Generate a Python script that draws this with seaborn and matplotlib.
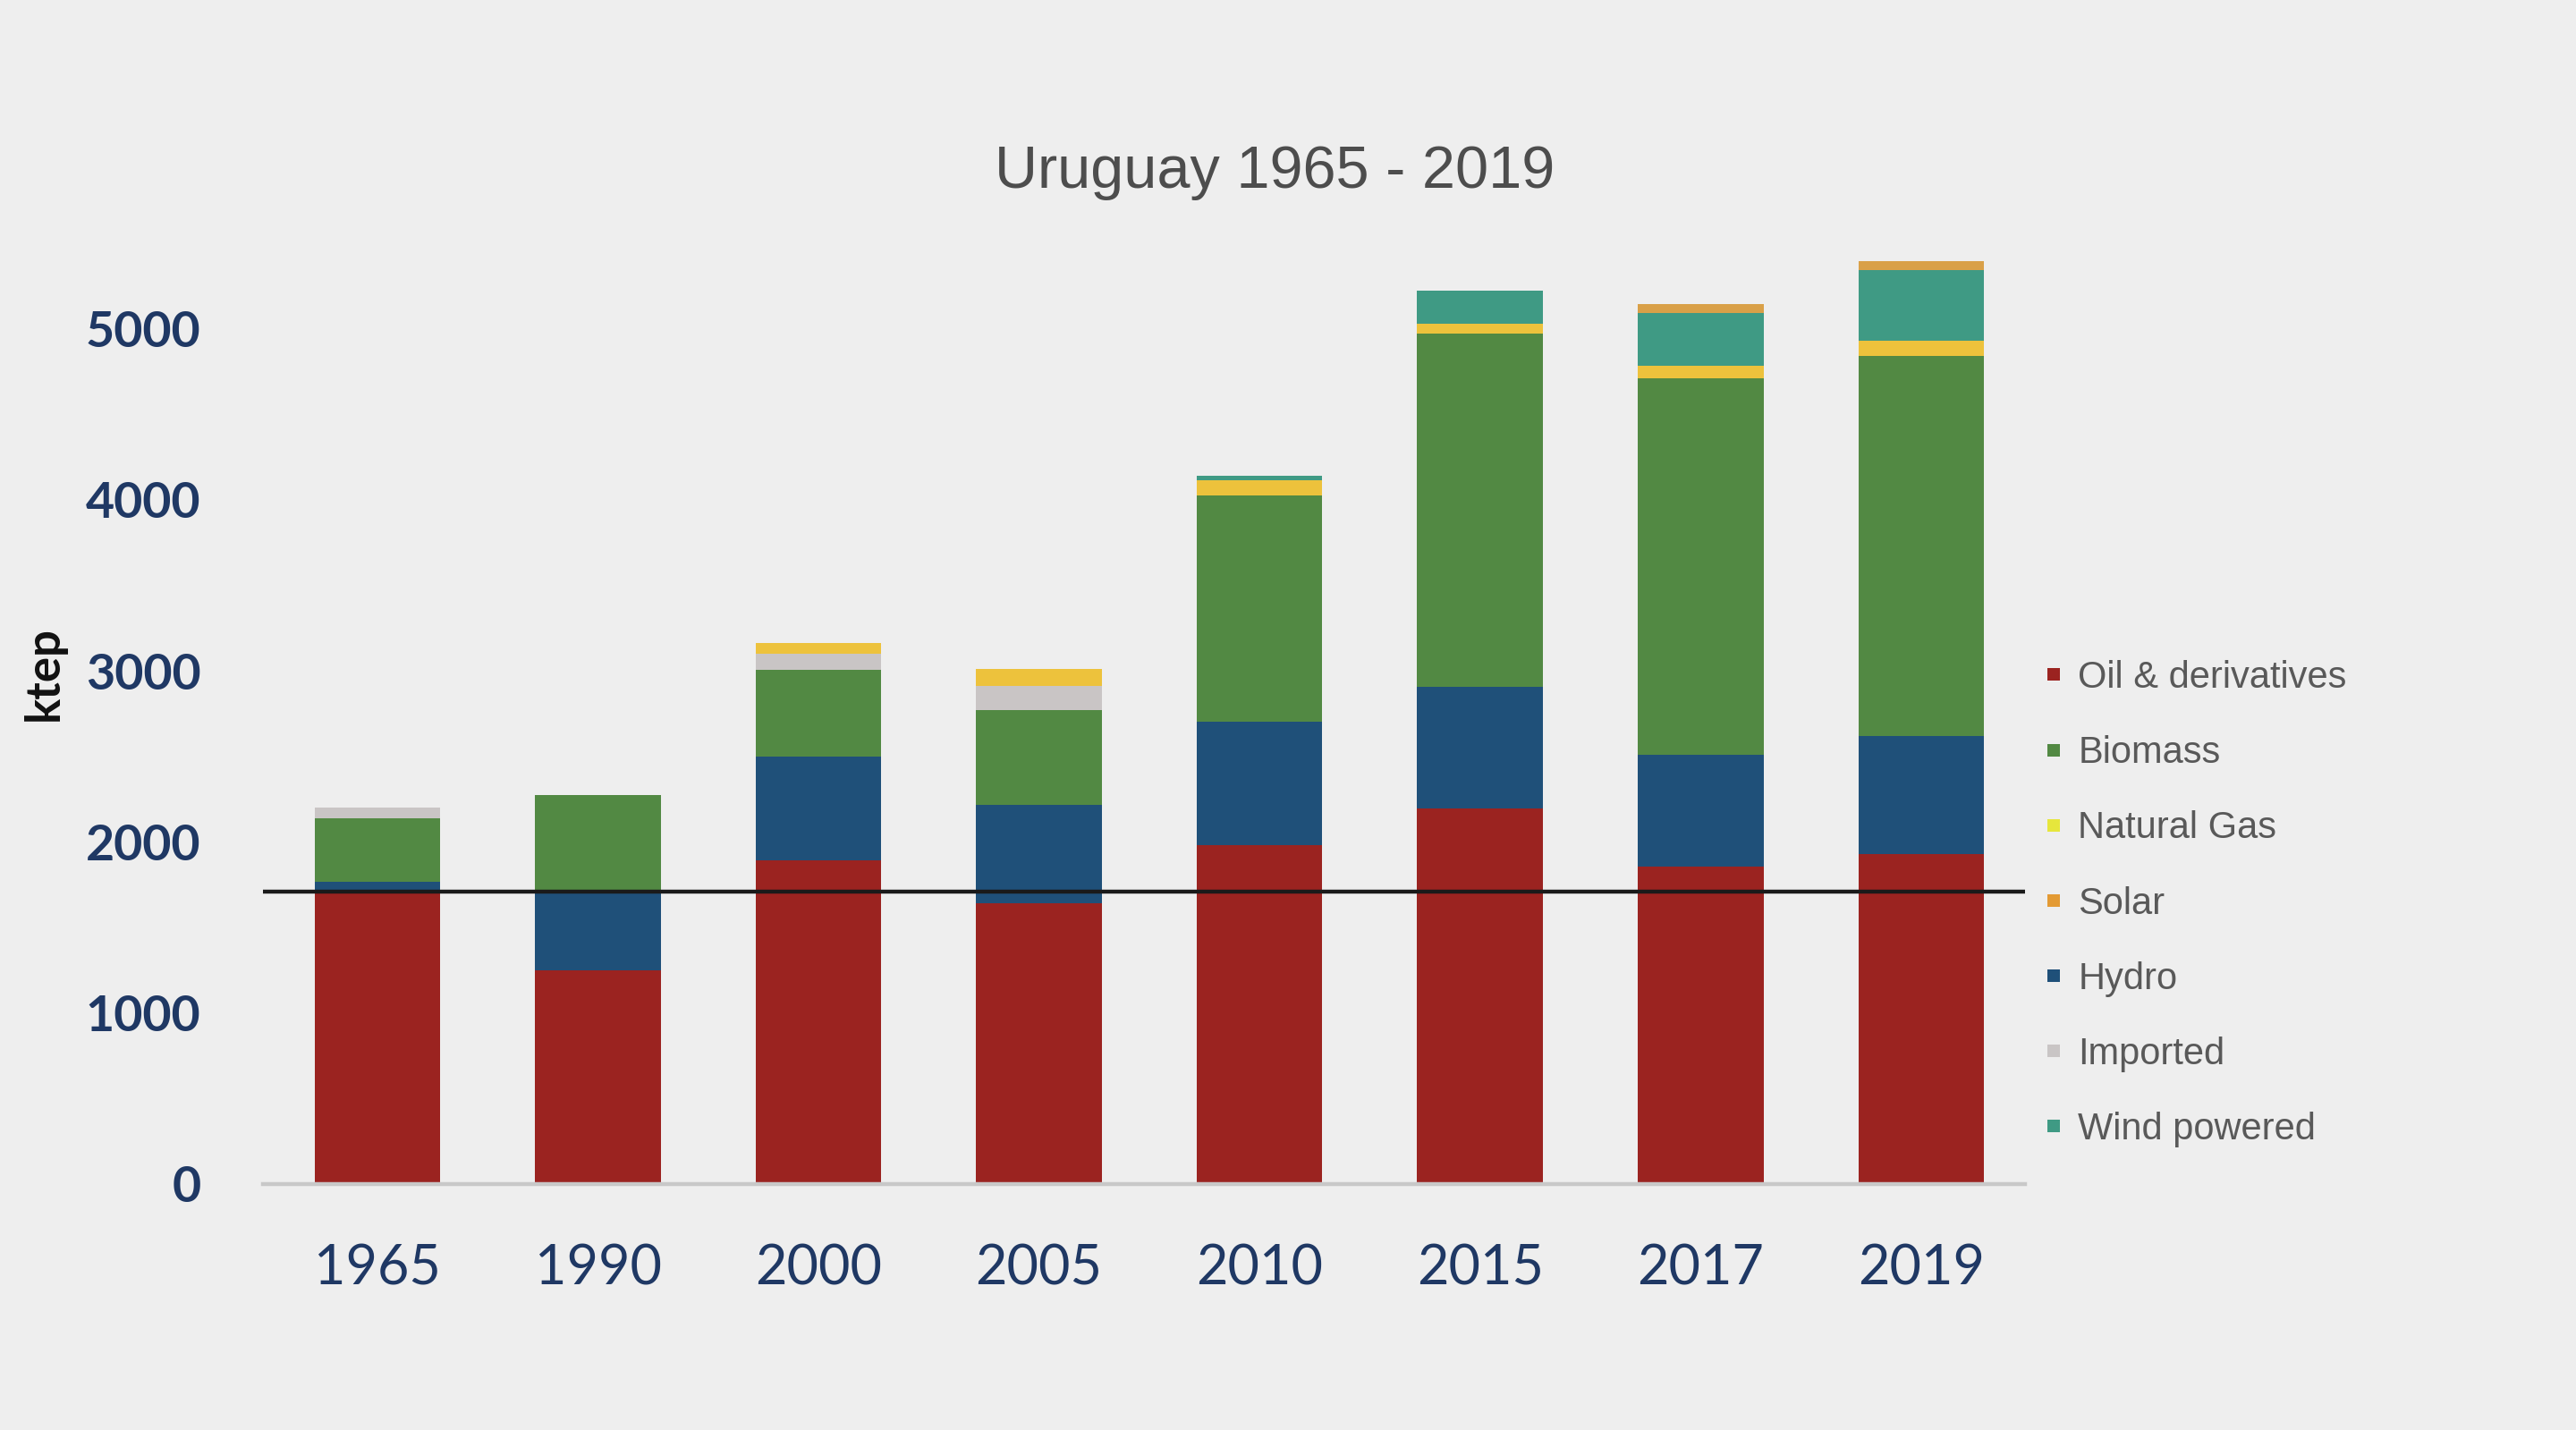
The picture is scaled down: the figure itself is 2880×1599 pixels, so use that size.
import matplotlib
matplotlib.use("Agg")
import matplotlib.pyplot as plt
import seaborn as sns
import numpy as np
from matplotlib.lines import Line2D

# ---- data (ktep) ----
years = ["1965", "1990", "2000", "2005", "2010", "2015", "2017", "2019"]
oil = [1718, 1250, 1890, 1640, 1980, 2195, 1858, 1928]
hydro = [48, 454, 610, 577, 720, 709, 650, 693]
biomass = [371, 569, 505, 553, 1326, 2065, 2204, 2217]
imported = [62, 0, 96, 139, 0, 0, 0, 0]
natural_gas = [0, 0, 61, 100, 90, 61, 70, 93]
wind = [0, 0, 0, 0, 25, 192, 309, 413]
solar = [0, 0, 0, 0, 0, 0, 52, 49]
reference_line = 1710
yticks = [0, 1000, 2000, 3000, 4000, 5000]
title = "Uruguay 1965 - 2019"
ylabel = "ktep"

# stacking order (bottom -> top)
stack = [
    ("Oil & derivatives", oil, "#9B2320"),
    ("Hydro", hydro, "#1F5079"),
    ("Biomass", biomass, "#528943"),
    ("Imported", imported, "#C9C5C5"),
    ("Natural Gas", natural_gas, "#EDC23C"),
    ("Wind powered", wind, "#3F9A84"),
    ("Solar", solar, "#D9A048"),
]
legend_order = ["Oil & derivatives", "Biomass", "Natural Gas", "Solar",
                "Hydro", "Imported", "Wind powered"]
legend_colors = {"Natural Gas": "#E6E63C", "Solar": "#E39A34"}

BG = "#EEEEEE"
sns.set_theme(style="white")
plt.rcParams["font.family"] = ["Lato", "DejaVu Sans"]

fig = plt.figure(figsize=(14.4, 7.995), dpi=200, facecolor=BG)
ax = fig.add_axes([0.102, 0.172, 0.684, 0.658])
ax.set_facecolor(BG)

cums = np.cumsum(np.array([s[1] for s in stack], dtype=float), axis=0)
# draw from top cumulative layer down so lower layers overpaint
for i in range(len(stack) - 1, -1, -1):
    sns.barplot(x=years, y=cums[i], order=years, color=stack[i][2],
                width=0.57, saturation=1, linewidth=0, ax=ax)

ax.axhline(reference_line, color="#1a1a1a", lw=1.6, zorder=5)

ax.set_xlim(-0.52, 7.47)
ax.set_ylim(0, 5500)
ax.set_yticks(yticks)
ax.set_yticklabels([str(v) for v in yticks])
ax.set_xlabel("")
ax.set_ylabel("")
for sp in ["top", "right", "left"]:
    ax.spines[sp].set_visible(False)
ax.spines["bottom"].set_color("#C8C8C8")
ax.spines["bottom"].set_linewidth(1.6)
ax.tick_params(axis="both", length=0)
ax.tick_params(axis="y", pad=25, labelsize=20, labelcolor="#1F3864")
ax.tick_params(axis="x", pad=24, labelsize=22, labelcolor="#1F3864")
for t in ax.get_yticklabels():
    t.set_fontweight("bold")

fig.text(0.495, 0.879, title, ha="center", va="center", fontsize=24,
         color="#4D4D4D", family=["Liberation Sans", "DejaVu Sans"])
fig.text(0.0172, 0.529, ylabel, ha="center", va="center", rotation=90,
         fontsize=19, fontweight="bold", color="#111111")

colmap = {s[0]: s[2] for s in stack}
handles = [Line2D([0], [0], marker="s", linestyle="none", markersize=5,
                  markerfacecolor=legend_colors.get(n, colmap[n]),
                  markeredgewidth=0) for n in legend_order]
leg = fig.legend(handles, legend_order, loc="center left",
                 bbox_to_anchor=(0.785, 0.368), frameon=False,
                 prop={"family": ["Liberation Sans", "DejaVu Sans"], "size": 15},
                 labelspacing=1.06, handletextpad=0.2, handlelength=0.9,
                 borderaxespad=0)
for t in leg.get_texts():
    t.set_color("#595959")

fig.savefig("out.png", dpi=200, facecolor=BG)
